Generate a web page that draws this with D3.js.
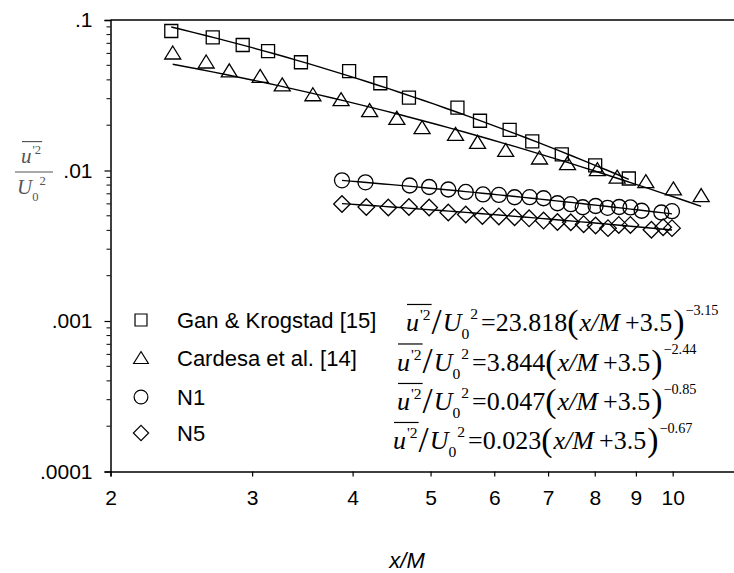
<!DOCTYPE html>
<html>
<head>
<meta charset="utf-8">
<script src="https://cdn.jsdelivr.net/npm/d3@7"></script>
<style>
  body { margin: 0; background: #fff; }
  svg { display: block; }
</style>
</head>
<body>
<div id="chart"></div>
<script>
// Gan & Krogstad [15] (squares)
var gkX = [2.38, 2.68, 2.92, 3.14, 3.45, 3.96, 4.33, 4.70, 5.40, 5.76, 6.27, 6.69, 7.28, 8.01, 8.82];
var gkY = [0.0845, 0.0767, 0.0682, 0.0622, 0.0524, 0.0458, 0.0380, 0.0305, 0.0262, 0.0214, 0.0186, 0.0156, 0.0128, 0.0108, 0.00885];
// Cardesa et al. [14] (triangles)
var cdX = [2.39, 2.63, 2.81, 3.07, 3.27, 3.57, 3.87, 4.20, 4.54, 4.88, 5.37, 5.72, 6.20, 6.83, 7.40, 8.06, 8.53, 9.26, 10.02, 10.85];
var cdY = [0.0608, 0.0530, 0.0463, 0.0425, 0.0373, 0.0321, 0.0298, 0.0252, 0.0224, 0.0194, 0.0175, 0.0155, 0.0137, 0.0122, 0.0112, 0.0102, 0.0091, 0.0085, 0.0076, 0.00687];
// N1 (circles)
var n1X = [3.88, 4.15, 4.71, 4.98, 5.26, 5.53, 5.81, 6.08, 6.36, 6.64, 6.91, 7.19, 7.47, 7.73, 8.02, 8.30, 8.58, 8.86, 9.15, 9.68, 9.98];
var n1Y = [0.00861, 0.00835, 0.00795, 0.00777, 0.00748, 0.00720, 0.00693, 0.00688, 0.00664, 0.00665, 0.00654, 0.00606, 0.00597, 0.00570, 0.00581, 0.00565, 0.00572, 0.00568, 0.00540, 0.00526, 0.00537];
// N5 (diamonds)
var n5X = [3.88, 4.16, 4.43, 4.70, 4.98, 5.26, 5.53, 5.80, 6.08, 6.36, 6.63, 6.91, 7.19, 7.47, 7.75, 8.02, 8.31, 8.57, 8.86, 9.41, 9.73, 9.98];
var n5Y = [0.00599, 0.00572, 0.00568, 0.00572, 0.00568, 0.00526, 0.00510, 0.00499, 0.00495, 0.00489, 0.00481, 0.00465, 0.00455, 0.00453, 0.00440, 0.00431, 0.00414, 0.00435, 0.00435, 0.00404, 0.00420, 0.00414];

// fitted power laws printed on the chart: a*(x/M+3.5)^b
var fitCoef = ["23.818", "3.844", "0.047", "0.023"];
var fitExp = ["\u22123.15", "\u22122.44", "\u22120.85", "\u22120.67"];
var fitA = [23.818, 3.844, 0.047, 0.023];
var fitB = [-3.15, -2.44, -0.85, -0.67];
var fitFrom = [2.38, 2.39, 3.88, 3.88];
var fitTo = [8.82, 10.85, 9.98, 9.98];

var seriesNames = ["Gan & Krogstad [15]", "Cardesa et al. [14]", "N1", "N5"];
var shapes = ["square", "triangle", "circle", "diamond"];
var xTicks = [2, 3, 4, 5, 6, 7, 8, 9, 10];
var yTicks = [0.0001, 0.001, 0.01, 0.1];
var yTickLabels = [".0001", ".001", ".01", ".1"];

var width = 734, height = 573;
var sans = "'Liberation Sans', Arial, sans-serif";
var serif = "'Liberation Serif', 'Times New Roman', serif";

var svg = d3.select("#chart").append("svg")
    .attr("width", width)
    .attr("height", height);

var x = d3.scaleLog().domain([2, 12]).range([110.5, 110.5 + 804.3 * Math.log10(6)]);
var y = d3.scaleLog().domain([0.0001, 0.1]).range([471.5, 20]);

// top frame line
svg.append("line")
    .attr("x1", x(2)).attr("x2", x(12))
    .attr("y1", y(0.1)).attr("y2", y(0.1))
    .attr("stroke", "#000").attr("stroke-width", 1.5);

var xAxis = svg.append("g")
    .attr("transform", "translate(0," + y(0.0001) + ")")
    .call(d3.axisBottom(x).tickValues(xTicks).tickFormat(d3.format("d")).tickSize(5).tickPadding(14));
xAxis.select(".domain").attr("stroke-width", 1.5);
xAxis.selectAll(".tick line").attr("stroke-width", 1.2);
xAxis.selectAll("text").style("font-family", sans).style("font-size", "21px").attr("fill", "#000");

// minor ticks on y
var minor = [];
for (var e = -4; e < -1; e++) for (var m = 2; m <= 9; m++) minor.push(m * Math.pow(10, e));
var yAxis = svg.append("g")
    .attr("transform", "translate(" + x(2) + ",0)")
    .call(d3.axisLeft(y).tickValues(yTicks).tickFormat(function (d, i) { return yTickLabels[i]; }).tickSize(6).tickPadding(12));
yAxis.select(".domain").attr("stroke-width", 1.5);
yAxis.selectAll(".tick line").attr("stroke-width", 1.2);
yAxis.selectAll("text").style("font-family", sans).style("font-size", "21px").attr("fill", "#000");
yAxis.selectAll(".minor").data(minor).enter().append("line")
    .attr("class", "minor")
    .attr("x1", -4).attr("x2", 0)
    .attr("y1", function (d) { return y(d); }).attr("y2", function (d) { return y(d); })
    .attr("stroke", "#000").attr("stroke-width", 1);

// marker path, centred on its bounding box
function marker(shape) {
  if (shape === "square") return "M-6.5,-6.5H6.5V6.5H-6.5Z";
  if (shape === "triangle") return "M0,-6.5L8,6.5H-8Z";
  if (shape === "diamond") return "M0,-8.3L8.3,0L0,8.3L-8.3,0Z";
  return "M7.5,0A7.5,7.5 0 1,1 -7.5,0A7.5,7.5 0 1,1 7.5,0Z";
}

var seriesX = [gkX, cdX, n1X, n5X];
var seriesY = [gkY, cdY, n1Y, n5Y];

// fit lines
var fitLine = d3.line().x(function (d) { return x(d[0]); }).y(function (d) { return y(d[1]); });
fitA.forEach(function (a, k) {
  var pts = d3.range(0, 41).map(function (j) {
    var xv = fitFrom[k] * Math.pow(fitTo[k] / fitFrom[k], j / 40);
    return [xv, a * Math.pow(xv + 3.5, fitB[k])];
  });
  svg.append("path").attr("d", fitLine(pts))
      .attr("fill", "none").attr("stroke", "#000").attr("stroke-width", 1.4);
});

// data markers
seriesX.forEach(function (xs, k) {
  svg.append("g").selectAll("path")
      .data(xs.map(function (v, i) { return [v, seriesY[k][i]]; }))
      .enter().append("path")
      .attr("d", marker(shapes[k]))
      .attr("transform", function (d) { return "translate(" + x(d[0]) + "," + y(d[1]) + ")"; })
      .attr("fill", "none").attr("stroke", "#000").attr("stroke-width", 1.3);
});

// legend
var legRows = [320, 357.5, 397, 433];
seriesNames.forEach(function (name, k) {
  svg.append("path").attr("d", marker(shapes[k]))
      .attr("transform", "translate(141," + legRows[k] + ") scale(0.92)")
      .attr("fill", "none").attr("stroke", "#000").attr("stroke-width", 1.3);
  svg.append("text").attr("x", 177).attr("y", legRows[k] + 8)
      .style("font-family", sans).style("font-size", "22px")
      .text(name);
});

// sequential text pieces for the equations
function piece(g, px, py, str, size, italic) {
  var t = g.append("text").attr("x", px).attr("y", py)
      .style("font-family", serif).style("font-size", size + "px")
      .style("font-style", italic ? "italic" : "normal")
      .text(str);
  return px + t.node().getComputedTextLength();
}

function uOverU(g, x0, fs) {
  var cx = piece(g, x0, 0, "u", fs, true);
  cx = piece(g, cx + 1, -0.42 * fs, "'", 0.6 * fs, false);
  cx = piece(g, cx, -0.42 * fs, "2", 0.6 * fs, false);
  g.append("line").attr("x1", x0 + 1).attr("x2", cx + 1)
      .attr("y1", -1.02 * fs).attr("y2", -1.02 * fs)
      .attr("stroke", "#000").attr("stroke-width", 1.2);
  return cx;
}

function uZero(g, x0, fs) {
  var cx = piece(g, x0, 0, "U", fs, true);
  cx = piece(g, cx, 0.32 * fs, "0", 0.6 * fs, false);
  return piece(g, cx + 1, -0.45 * fs, "2", 0.6 * fs, false);
}

var eqStart = [406, 397, 397, 393];
var eqBase = [331, 370.5, 410, 449];
fitCoef.forEach(function (c, k) {
  var fs = 26;
  var g = svg.append("g").attr("transform", "translate(0," + eqBase[k] + ")");
  var cx = uOverU(g, eqStart[k], fs);
  cx = piece(g, cx + 1, 0.1 * fs, "/", 1.4 * fs, false);
  cx = uZero(g, cx + 1, fs);
  cx = piece(g, cx + 3, 0, "=" + c, fs, false);
  cx = piece(g, cx, 0.08 * fs, "(", 1.3 * fs, false);
  cx = piece(g, cx + 1, 0, "x/M", fs, true);
  cx = piece(g, cx + 5, 0, "+3.5", fs, false);
  cx = piece(g, cx + 1, 0.08 * fs, ")", 1.3 * fs, false);
  piece(g, cx + 1, -0.62 * fs, fitExp[k], 0.55 * fs, false);
});

// y axis label: fraction
var yl = svg.append("g");
var fsY = 21;
uOverU(yl.append("g").attr("transform", "translate(0,163)"), 21, fsY);
yl.append("line").attr("x1", 15).attr("x2", 53).attr("y1", 172).attr("y2", 172);
uZero(yl.append("g").attr("transform", "translate(0,194)"), 17, fsY);
yl.selectAll("text").attr("fill", "#555");
yl.selectAll("line").attr("stroke", "#555").attr("stroke-width", 1.2);

// x axis label
svg.append("text").attr("x", 407).attr("y", 568)
    .attr("text-anchor", "middle")
    .style("font-family", sans).style("font-size", "22px").style("font-style", "italic")
    .text("x/M");
</script>
</body>
</html>
